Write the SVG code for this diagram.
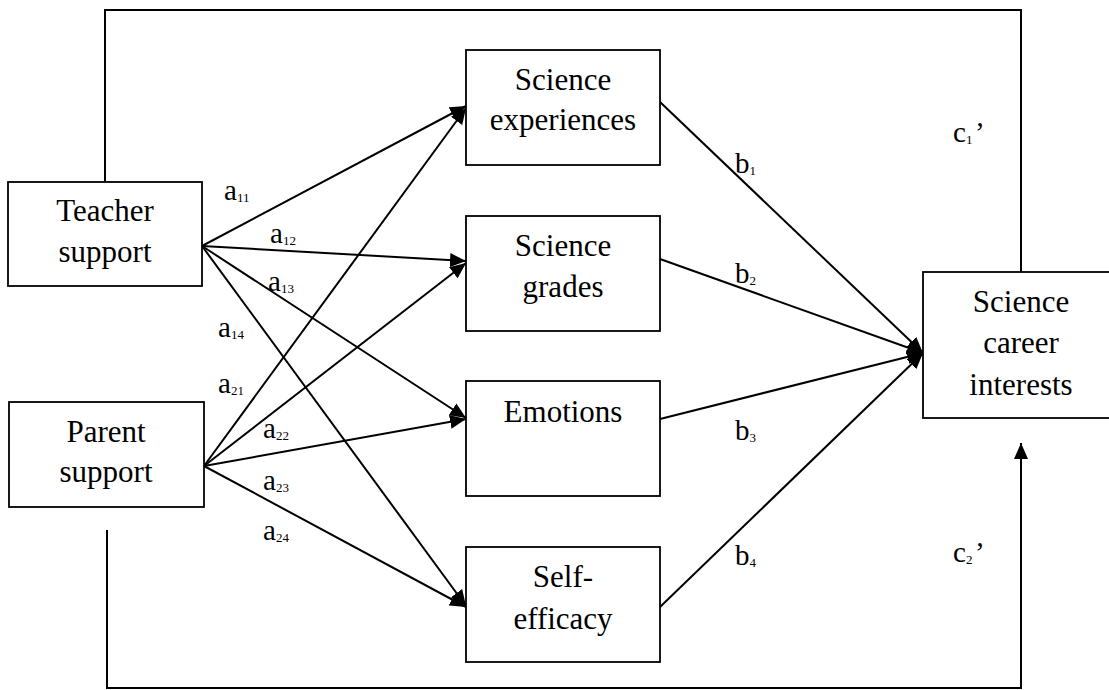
<svg xmlns="http://www.w3.org/2000/svg" width="1109" height="690" viewBox="0 0 1109 690">
  <style>
    .box { fill: #ffffff; stroke: #000000; stroke-width: 1.8; }
    .node-text { font-family: "Liberation Serif", "Times New Roman", serif; font-size: 31px; fill: #000000; text-anchor: middle; }
    .path { fill: none; stroke: #000000; stroke-width: 2; }
    .lbl { font-family: "Liberation Serif", "Times New Roman", serif; font-size: 29px; fill: #000000; }
    .sub { font-size: 13px; }
  </style>
  <defs>
    <marker id="head" markerUnits="userSpaceOnUse" markerWidth="17" markerHeight="14" refX="16" refY="7" orient="auto">
      <path d="M0,0 L16,7 L0,14 z" fill="#000000"/>
    </marker>
  </defs>
  <rect width="1109" height="690" fill="#ffffff"/>

  <!-- paths between constructs -->
  <g id="connectors">
    <!-- direct effects -->
    <polyline class="path" points="105,182 105,10 1021,10 1021,272"/>
    <polyline class="path" points="107,530 107,688 1021,688 1021,443" marker-end="url(#head)"/>
    <!-- teacher support to mediators -->
    <line class="path" x1="202" y1="246" x2="466" y2="106" marker-end="url(#head)"/>
    <line class="path" x1="202" y1="246" x2="466" y2="261" marker-end="url(#head)"/>
    <line class="path" x1="202" y1="246" x2="466" y2="418" marker-end="url(#head)"/>
    <line class="path" x1="202" y1="246" x2="466" y2="606" marker-end="url(#head)"/>
    <!-- parent support to mediators -->
    <line class="path" x1="204" y1="466" x2="466" y2="108" marker-end="url(#head)"/>
    <line class="path" x1="204" y1="466" x2="466" y2="263" marker-end="url(#head)"/>
    <line class="path" x1="204" y1="466" x2="466" y2="419" marker-end="url(#head)"/>
    <line class="path" x1="204" y1="466" x2="466" y2="607" marker-end="url(#head)"/>
    <!-- mediators to outcome -->
    <line class="path" x1="660" y1="102" x2="923" y2="353" marker-end="url(#head)"/>
    <line class="path" x1="660" y1="259" x2="923" y2="353" marker-end="url(#head)"/>
    <line class="path" x1="660" y1="419" x2="923" y2="353" marker-end="url(#head)"/>
    <line class="path" x1="660" y1="607" x2="923" y2="353" marker-end="url(#head)"/>
  </g>

  <!-- path coefficients -->
  <g id="labels" class="lbl">
    <text x="224" y="200">a<tspan class="sub" dy="2">11</tspan></text>
    <text x="270" y="243">a<tspan class="sub" dy="2">12</tspan></text>
    <text x="268" y="291">a<tspan class="sub" dy="2">13</tspan></text>
    <text x="218" y="337">a<tspan class="sub" dy="2">14</tspan></text>
    <text x="218" y="393">a<tspan class="sub" dy="2">21</tspan></text>
    <text x="263" y="438">a<tspan class="sub" dy="2">22</tspan></text>
    <text x="263" y="490">a<tspan class="sub" dy="2">23</tspan></text>
    <text x="263" y="540">a<tspan class="sub" dy="2">24</tspan></text>
    <text x="735" y="173">b<tspan class="sub" dy="2">1</tspan></text>
    <text x="735" y="283">b<tspan class="sub" dy="2">2</tspan></text>
    <text x="735" y="440">b<tspan class="sub" dy="2">3</tspan></text>
    <text x="735" y="565">b<tspan class="sub" dy="2">4</tspan></text>
    <text x="953" y="142">c<tspan class="sub" dy="2">1</tspan><tspan x="975" dy="-2">’</tspan></text>
    <text x="953" y="562">c<tspan class="sub" dy="2">2</tspan><tspan x="975" dy="-2">’</tspan></text>
  </g>

  <g id="teacher-support">
    <rect class="box" x="8" y="182" width="194" height="104"/>
    <text class="node-text" x="105" y="221">Teacher</text>
    <text class="node-text" x="105" y="262">support</text>
  </g>
  <g id="parent-support">
    <rect class="box" x="9" y="402" width="195" height="105"/>
    <text class="node-text" x="106" y="442">Parent</text>
    <text class="node-text" x="106" y="482">support</text>
  </g>
  <g id="science-experiences">
    <rect class="box" x="466" y="50" width="194" height="115"/>
    <text class="node-text" x="563" y="90">Science</text>
    <text class="node-text" x="563" y="130">experiences</text>
  </g>
  <g id="science-grades">
    <rect class="box" x="466" y="216" width="194" height="115"/>
    <text class="node-text" x="563" y="256">Science</text>
    <text class="node-text" x="563" y="297">grades</text>
  </g>
  <g id="emotions">
    <rect class="box" x="466" y="381" width="194" height="115"/>
    <text class="node-text" x="563" y="422">Emotions</text>
  </g>
  <g id="self-efficacy">
    <rect class="box" x="466" y="547" width="194" height="115"/>
    <text class="node-text" x="563" y="587">Self-</text>
    <text class="node-text" x="563" y="629">efficacy</text>
  </g>
  <g id="science-career-interests">
    <rect class="box" x="923" y="272" width="197" height="146"/>
    <text class="node-text" x="1021" y="312">Science</text>
    <text class="node-text" x="1021" y="353">career</text>
    <text class="node-text" x="1021" y="395">interests</text>
  </g>
</svg>
